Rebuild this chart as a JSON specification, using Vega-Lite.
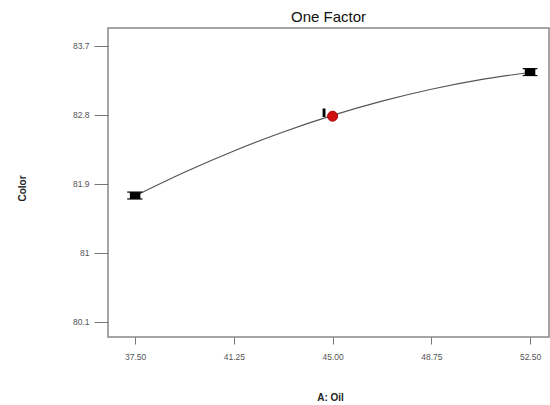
{
  "$schema": "https://vega.github.io/schema/vega-lite/v6.json",
  "width": 441,
  "height": 309,
  "autosize": {"type": "none"},
  "padding": {"left": 108, "top": 28, "right": 1, "bottom": 68},
  "background": "white",
  "title": {"text": "One Factor", "font": "Liberation Sans", "fontSize": 15, "fontWeight": "normal", "color": "#111", "anchor": "middle", "frame": "group", "offset": 3},
  "config": {
    "view": {"stroke": "#888", "strokeWidth": 1.5},
    "axis": {"grid": false, "domain": false, "tickColor": "#777", "labelColor": "#555", "labelFont": "Liberation Sans", "labelFontSize": 8.5, "titleFont": "Liberation Sans", "titleFontSize": 10, "titleFontWeight": "bold", "titleColor": "#222"}
  },
  "datasets": {
    "curve": [
      {"oil": 37.5, "color": 81.74},
      {"oil": 39.375, "color": 82.048},
      {"oil": 41.25, "color": 82.326},
      {"oil": 43.125, "color": 82.573},
      {"oil": 45.0, "color": 82.79},
      {"oil": 46.875, "color": 82.976},
      {"oil": 48.75, "color": 83.131},
      {"oil": 50.625, "color": 83.256},
      {"oil": 52.5, "color": 83.35}
    ],
    "bars": [
      {"x1": 37.3, "x2": 37.7, "lo": 81.70, "hi": 81.79, "c1": 37.2, "c2": 37.78},
      {"x1": 52.3, "x2": 52.7, "lo": 83.31, "hi": 83.40, "c1": 52.22, "c2": 52.78}
    ],
    "design": [
      {"x1": 44.62, "x2": 44.73, "lo": 82.77, "hi": 82.88}
    ],
    "pred": [
      {"oil": 45.0, "color": 82.78}
    ]
  },
  "layer": [
    {
      "data": {"name": "curve"},
      "mark": {"type": "line", "color": "#555", "strokeWidth": 1.2, "interpolate": "monotone"},
      "encoding": {
        "x": {"field": "oil", "type": "quantitative", "scale": {"domain": [36.47, 53.22], "nice": false, "zero": false},
          "axis": {"values": [37.5, 41.25, 45, 48.75, 52.5], "format": ".2f", "tickSize": 7, "labelPadding": 8, "title": "A: Oil", "titleX": 222, "titleY": 60, "titleBaseline": "middle"}},
        "y": {"field": "color", "type": "quantitative", "scale": {"domain": [79.9, 83.93], "nice": false, "zero": false},
          "axis": {"values": [80.1, 81, 81.9, 82.8, 83.7], "format": "~g", "tickSize": 14, "labelPadding": 5, "title": "Color", "titleX": -86, "titleY": 160, "titleBaseline": "middle", "titleAlign": "center"}}
      }
    },
    {
      "data": {"name": "bars"},
      "mark": {"type": "rect", "color": "black"},
      "encoding": {
        "x": {"field": "x1", "type": "quantitative"},
        "x2": {"field": "x2"},
        "y": {"field": "lo", "type": "quantitative"},
        "y2": {"field": "hi"}
      }
    },
    {
      "data": {"name": "bars"},
      "mark": {"type": "rule", "color": "black", "strokeWidth": 1.2},
      "encoding": {
        "x": {"field": "c1", "type": "quantitative"},
        "x2": {"field": "c2"},
        "y": {"field": "lo", "type": "quantitative"}
      }
    },
    {
      "data": {"name": "bars"},
      "mark": {"type": "rule", "color": "black", "strokeWidth": 1.2},
      "encoding": {
        "x": {"field": "c1", "type": "quantitative"},
        "x2": {"field": "c2"},
        "y": {"field": "hi", "type": "quantitative"}
      }
    },
    {
      "data": {"name": "design"},
      "mark": {"type": "rect", "color": "black"},
      "encoding": {
        "x": {"field": "x1", "type": "quantitative"},
        "x2": {"field": "x2"},
        "y": {"field": "lo", "type": "quantitative"},
        "y2": {"field": "hi"}
      }
    },
    {
      "data": {"name": "pred"},
      "mark": {"type": "circle", "color": "#d01010", "opacity": 1, "size": 100, "stroke": "#a00", "strokeWidth": 1},
      "encoding": {
        "x": {"field": "oil", "type": "quantitative"},
        "y": {"field": "color", "type": "quantitative"}
      }
    }
  ]
}
